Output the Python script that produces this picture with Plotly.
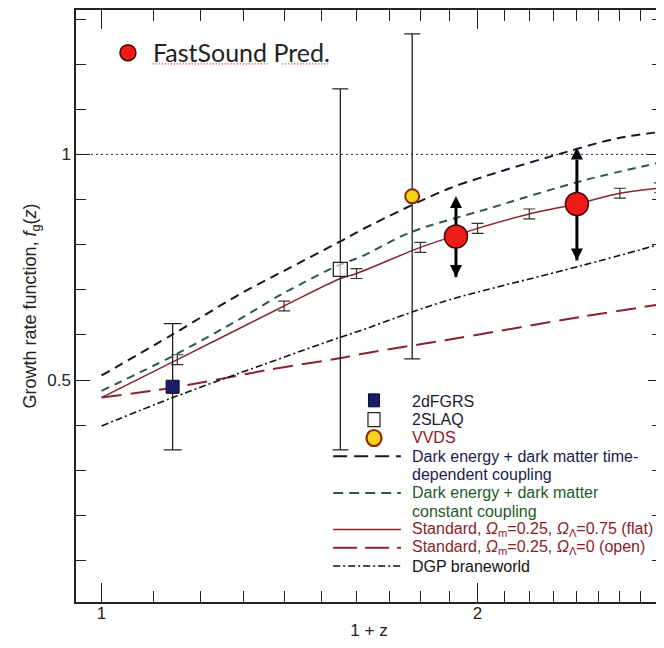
import numpy as np
import plotly.graph_objects as go

# ---------------- data ----------------
# model curves: x = 1+z, y = growth rate f_g(z)
td_x = [1.0, 1.14, 1.29, 1.40, 1.55, 1.61, 1.77, 1.90, 2.03, 2.28, 2.59, 2.81]
td_y = [0.510, 0.601, 0.690, 0.742, 0.806, 0.831, 0.887, 0.925, 0.952, 0.994, 1.036, 1.050]

cc_x = [1.0, 1.14, 1.29, 1.40, 1.55, 1.61, 1.77, 2.03, 2.43, 2.81]
cc_y = [0.476, 0.553, 0.635, 0.693, 0.755, 0.772, 0.828, 0.878, 0.942, 0.983]

flat_x = [1.0, 1.15, 1.40, 1.55, 1.60, 1.80, 1.92, 2.0, 2.2, 2.40, 2.6, 2.81]
flat_y = [0.461, 0.545, 0.664, 0.724, 0.736, 0.794, 0.820, 0.836, 0.868, 0.890, 0.914, 0.926]

open_x = [1.0, 1.14, 1.37, 1.55, 1.61, 1.77, 1.885, 2.42, 2.81]
open_y = [0.461, 0.483, 0.524, 0.548, 0.557, 0.576, 0.588, 0.640, 0.668]

dgp_x = [1.0, 1.14, 1.35, 1.55, 1.61, 1.77, 1.90, 2.42, 2.81]
dgp_y = [0.398, 0.461, 0.535, 0.594, 0.609, 0.650, 0.678, 0.753, 0.802]

# forecast error bars sitting on the standard flat curve
fc_x = [1.15, 1.40, 1.60, 1.80, 2.00, 2.20, 2.60, 2.80]
fc_y = [0.545, 0.664, 0.736, 0.794, 0.836, 0.868, 0.914, 0.926]
fc_err = [0.011, 0.011, 0.011, 0.011, 0.011, 0.011, 0.011, 0.011]

# measurements
dfgrs_x, dfgrs_y, dfgrs_err = [1.14], [0.485], [0.14]
slaq_x, slaq_y, slaq_err = [1.553], [0.745], [0.40]
vvds_x, vvds_y, vvds_err = [1.773], [0.907], [0.36]

# FastSound predictions
fs_x = [1.922, 2.402]
fs_y = [0.818, 0.890]
fs_err = [0.09, 0.125]

ref_level = 1.0  # horizontal dotted reference line

x_tick_vals = [1, 2]
x_tick_text = ["1", "2"]
x_minor_vals = [1.1, 1.2, 1.3, 1.4, 1.5, 1.6, 1.7, 1.8, 1.9,
                2.1, 2.2, 2.3, 2.4, 2.5, 2.6, 2.7, 2.8, 2.9]
y_tick_vals = [0.5, 1]
y_tick_text = ["0.5", "1"]

# legend rows (text lines of the key in the lower right)
key_lines = ["2dFGRS", "2SLAQ", "VVDS",
             "Dark energy + dark matter time-", "dependent coupling",
             "Dark energy + dark matter", "constant coupling",
             "Standard, <i>Ω</i><sub>m</sub>=0.25, <i>Ω</i><sub>Λ</sub>=0.75 (flat)",
             "Standard, <i>Ω</i><sub>m</sub>=0.25, <i>Ω</i><sub>Λ</sub>=0 (open)",
             "DGP braneworld"]
key_colors = ["#1a1a30", "#1a1a30", "#8a1c22",
              "#1c1c48", "#1c1c48", "#1e5a2a", "#1e5a2a",
              "#8a1c28", "#8a1c28", "#111111"]

# ---------------- figure ----------------
FONT = "Arial, Liberation Sans, Helvetica, sans-serif"
W, H = 656, 640                 # page has an 8px body margin
ML, MR, MT, MB = 68, 0, 1, 46

# page-pixel -> paper helpers (page = screenshot coordinates)
def px(xpage):
    return (xpage - 8 - ML) / (W - ML - MR)

def py(ypage):
    return (H - MB - (ypage - 8)) / (H - MT - MB)

fig = go.Figure()

C_TD, C_CC, C_FLAT, C_OPEN, C_DGP = "#15152a", "#2e5a3c", "#8a2530", "#8a2030", "#111111"
D_TD, D_CC, D_OPEN, D_DGP = "9px,6px", "8px,6px", "20px,9px", "7px,3px,2px,3px"
SM = 0.9

fig.add_trace(go.Scatter(x=td_x, y=td_y, mode="lines",
                         line=dict(color=C_TD, width=2, dash=D_TD, shape="spline", smoothing=SM),
                         name="Dark energy + dark matter time-dependent coupling",
                         showlegend=False))
fig.add_trace(go.Scatter(x=cc_x, y=cc_y, mode="lines",
                         line=dict(color=C_CC, width=2, dash=D_CC, shape="spline", smoothing=SM),
                         name="Dark energy + dark matter constant coupling",
                         showlegend=False))
fig.add_trace(go.Scatter(x=flat_x, y=flat_y, mode="lines",
                         line=dict(color=C_FLAT, width=1.5, shape="spline", smoothing=SM),
                         name="Standard flat", showlegend=False))
fig.add_trace(go.Scatter(x=open_x, y=open_y, mode="lines",
                         line=dict(color=C_OPEN, width=2, dash=D_OPEN, shape="spline", smoothing=SM),
                         name="Standard open", showlegend=False))
fig.add_trace(go.Scatter(x=dgp_x, y=dgp_y, mode="lines",
                         line=dict(color=C_DGP, width=1.6, dash=D_DGP, shape="spline", smoothing=SM),
                         name="DGP braneworld", showlegend=False))

fig.add_trace(go.Scatter(
    x=fc_x, y=fc_y, mode="markers",
    marker=dict(size=1, color="rgba(0,0,0,0)"),
    error_y=dict(type="data", array=fc_err, color="#333333", thickness=1.2, width=6),
    showlegend=False, hoverinfo="skip"))

fig.add_trace(go.Scatter(
    x=dfgrs_x, y=dfgrs_y, mode="markers",
    marker=dict(symbol="square", size=13, color="#1c1c6b", line=dict(color="#0a0a20", width=1)),
    error_y=dict(type="data", array=dfgrs_err, color="#222222", thickness=1.3, width=9),
    name="2dFGRS", showlegend=False))
fig.add_trace(go.Scatter(
    x=slaq_x, y=slaq_y, mode="markers",
    marker=dict(symbol="square", size=14, color="rgba(255,255,255,0.6)", line=dict(color="#222222", width=1.3)),
    error_y=dict(type="data", array=slaq_err, color="#222222", thickness=1.3, width=8),
    name="2SLAQ", showlegend=False))
fig.add_trace(go.Scatter(
    x=vvds_x, y=vvds_y, mode="markers",
    marker=dict(symbol="circle", size=14, color="#f7d21a", line=dict(color="#8a2a00", width=2)),
    error_y=dict(type="data", array=vvds_err, color="#222222", thickness=1.3, width=8),
    name="VVDS", showlegend=False))

# FastSound arrows (drawn beneath the circles)
for xi, yi, ei in zip(fs_x, fs_y, fs_err):
    fig.add_trace(go.Scatter(
        x=[xi, xi], y=[yi - ei, yi + ei], mode="lines+markers",
        line=dict(color="#000000", width=3),
        marker=dict(symbol=["arrow-down", "arrow-up"], size=12, color="#000000"),
        showlegend=False, hoverinfo="skip"))

fig.add_trace(go.Scatter(
    x=fs_x, y=fs_y, mode="markers",
    marker=dict(symbol="circle", size=23, color="#ee1b17", line=dict(color="#3a0808", width=1.5)),
    name="FastSound Pred.", showlegend=True))

# ---- key in the lower right (text as annotations, samples as shapes) ----
row_y = [401, 419.3, 437.7, 456, 474.3, 492.7, 511, 529.3, 547.7, 566]
annotations = []
for txt, col, yy in zip(key_lines, key_colors, row_y):
    annotations.append(dict(text=txt, xref="paper", yref="paper", x=px(411), y=py(yy),
                            xanchor="left", yanchor="middle", showarrow=False,
                            font=dict(family=FONT, size=16, color=col)))

shapes = []
# dotted reference line at f = 1
shapes.append(dict(type="line", xref="paper", yref="y", x0=0, x1=1,
                   y0=ref_level, y1=ref_level, layer="below",
                   line=dict(color="#222222", width=1, dash="2px,3px")))
# line samples
for yy, col, dash, wd in [(456, C_TD, "14px,7px", 2), (492.7, C_CC, "10px,6px", 2),
                          (529.3, C_FLAT, "solid", 1.5), (547.7, C_OPEN, "24px,8px", 2),
                          (566, C_DGP, D_DGP, 1.4)]:
    shapes.append(dict(type="line", xref="paper", yref="paper",
                       x0=px(334), x1=px(402), y0=py(yy), y1=py(yy),
                       line=dict(color=col, width=wd, dash=dash)))
# marker samples
mx = px(375)
shapes.append(dict(type="rect", xref="paper", yref="paper", xsizemode="pixel", ysizemode="pixel",
                   xanchor=mx, yanchor=py(400), x0=-5.5, x1=5.5, y0=-6.5, y1=6.5,
                   fillcolor="#1c1c6b", line=dict(color="#0a0a20", width=1)))
shapes.append(dict(type="rect", xref="paper", yref="paper", xsizemode="pixel", ysizemode="pixel",
                   xanchor=mx, yanchor=py(419.3), x0=-6, x1=6, y0=-7, y1=7,
                   fillcolor="white", line=dict(color="#222222", width=1.2)))
shapes.append(dict(type="circle", xref="paper", yref="paper", xsizemode="pixel", ysizemode="pixel",
                   xanchor=mx, yanchor=py(437.7), x0=-7.5, x1=7.5, y0=-8, y1=8,
                   fillcolor="#f7d21a", line=dict(color="#8a2a00", width=2.2)))
# red dotted "spell-check" underline under the FastSound label
for xa, xb in [(153, 268), (283, 330)]:
    shapes.append(dict(type="line", xref="paper", yref="paper",
                       x0=px(xa), x1=px(xb), y0=py(63), y1=py(63),
                       line=dict(color="#d02020", width=1.3, dash="1px,2px")))

fig.update_layout(
    width=W, height=H,
    margin=dict(l=ML, r=MR, t=MT, b=MB),
    paper_bgcolor="white", plot_bgcolor="white",
    font=dict(family=FONT, color="#222222"),
    showlegend=True,
    legend=dict(x=px(103), y=py(29), xanchor="left", yanchor="top",
                font=dict(family="Lato, Open Sans, sans-serif", size=25, color="#222222"),
                itemwidth=40, bgcolor="rgba(0,0,0,0)"),
    annotations=annotations,
    shapes=shapes,
)

fig.update_xaxes(
    type="log", range=[np.log10(0.954), np.log10(2.81)],
    tickmode="array", tickvals=x_tick_vals, ticktext=x_tick_text,
    ticks="inside", ticklen=19, tickwidth=1.3, tickcolor="#222222",
    minor=dict(tickmode="array", tickvals=x_minor_vals, ticks="inside",
               ticklen=11, tickwidth=1.2, tickcolor="#222222", showgrid=False),
    showline=True, linewidth=1.5, linecolor="#222222", mirror="ticks",
    showgrid=False, zeroline=False,
    tickfont=dict(size=17), ticklabelstandoff=-5,
    title=dict(text="1 + z", font=dict(size=17), standoff=2),
)
fig.update_yaxes(
    range=[0.008, 1.32],
    tickmode="array", tickvals=y_tick_vals, ticktext=y_tick_text,
    ticks="inside", ticklen=14, tickwidth=1.3, tickcolor="#222222",
    minor=dict(dtick=0.1, tick0=0, ticks="inside", ticklen=10,
               tickwidth=1.2, tickcolor="#222222", showgrid=False),
    showline=True, linewidth=1.5, linecolor="#222222", mirror="ticks",
    showgrid=False, zeroline=False,
    tickfont=dict(size=17),
    title=dict(text="Growth rate function, <i>f</i><sub>g</sub>(<i>z</i>)",
               font=dict(size=18), standoff=6),
)

fig.write_html("out.html")
